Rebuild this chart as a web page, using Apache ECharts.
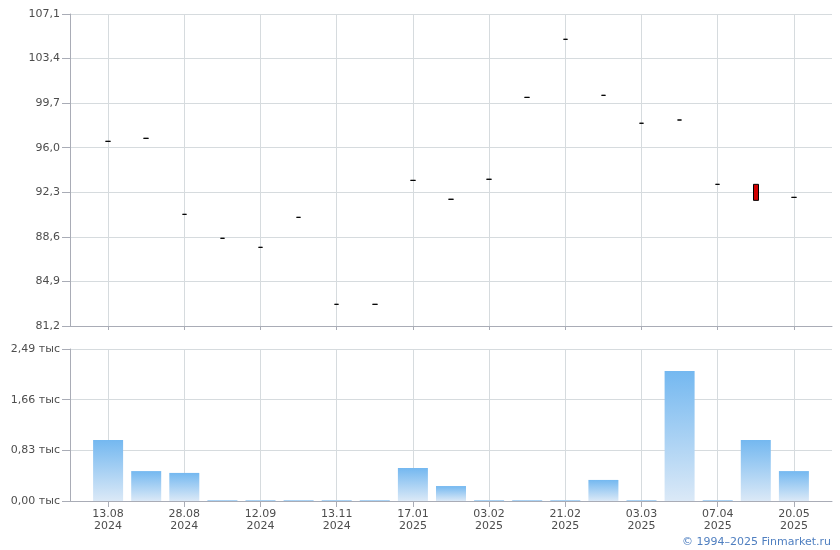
<!DOCTYPE html>
<html>
<head>
<meta charset="utf-8">
<script src="https://cdn.jsdelivr.net/npm/echarts@6/dist/echarts.min.js"></script>
<style>html,body{margin:0;padding:0;background:#fff}#c{width:840px;height:550px}</style>
</head>
<body>
<div id="c"></div>
<script>
// categories (first and last are empty padding slots; unlabeled slots are '')
var categories = ['', '13.08\n2024', '', '28.08\n2024', '', '12.09\n2024', '', '13.11\n2024', '', '17.01\n2025', '', '03.02\n2025', '', '21.02\n2025', '', '03.03\n2025', '', '07.04\n2025', '', '20.05\n2025', ''];
// price: open, close, low, high
var priceOpen  = [null, 96.53, 96.78, 90.47, 88.48, 87.73, 90.22, 83.00, 83.00, 93.29, 91.72, 93.38, 100.18, 105.00, 100.35, 98.03, 98.30, 92.96, 92.96, 91.88, null];
var priceClose = [null, 96.53, 96.78, 90.47, 88.48, 87.73, 90.22, 83.00, 83.00, 93.29, 91.72, 93.38, 100.18, 105.00, 100.35, 98.03, 98.30, 92.96, 91.63, 91.88, null];
var priceLow   = [null, 96.53, 96.78, 90.47, 88.48, 87.73, 90.22, 83.00, 83.00, 93.29, 91.72, 93.38, 100.18, 105.00, 100.35, 98.03, 98.30, 92.96, 91.63, 91.88, null];
var priceHigh  = [null, 96.53, 96.78, 90.47, 88.48, 87.73, 90.22, 83.00, 83.00, 93.29, 91.72, 93.38, 100.18, 105.00, 100.35, 98.03, 98.30, 92.96, 92.96, 91.88, null];
// volume
var volume = [null, 1000, 490, 460, 15, 15, 15, 15, 15, 540, 245, 15, 15, 15, 345, 15, 2130, 15, 1000, 490, null];
// axis settings
var priceMin = 81.2, priceMax = 107.1, priceStep = 3.7;
var volMin = 0, volMax = 2490, volStep = 830;

var candleData = priceOpen.map(function (o, i) {
  return o == null ? '-' : [o, priceClose[i], priceLow[i], priceHigh[i]];
});
var volData = volume.map(function (v) { return v == null ? '-' : v; });

var odd = function (i) { return i % 2 === 1; };
var axisLineColor = '#a9acb6';
var gridColor = '#d6dbde';
var textColor = '#4d4d4d';
var font = 'DejaVu Sans, Verdana, sans-serif';

var chart = echarts.init(document.getElementById('c'));
chart.setOption({
  animation: false,
  backgroundColor: '#fff',
  grid: [
    { left: 70, right: 8, top: 14, height: 312 },
    { left: 70, right: 8, top: 349, height: 152 }
  ],
  xAxis: [
    {
      type: 'category', gridIndex: 0, data: categories, boundaryGap: false,
      axisLine: { lineStyle: { color: axisLineColor } },
      axisTick: { show: true, interval: odd, length: 4, lineStyle: { color: axisLineColor } },
      axisLabel: { show: false },
      splitLine: { show: true, interval: odd, lineStyle: { color: gridColor } }
    },
    {
      type: 'category', gridIndex: 1, data: categories, boundaryGap: false,
      axisLine: { lineStyle: { color: axisLineColor } },
      axisTick: { show: true, interval: odd, length: 6, lineStyle: { color: axisLineColor } },
      axisLabel: { show: true, interval: odd, color: textColor, fontFamily: font, fontSize: 11, lineHeight: 12, margin: 7 },
      splitLine: { show: true, interval: odd, lineStyle: { color: gridColor } }
    }
  ],
  yAxis: [
    {
      type: 'value', gridIndex: 0, min: priceMin, max: priceMax, interval: priceStep,
      axisLine: { show: true, lineStyle: { color: axisLineColor } },
      axisTick: { show: true, length: 8, lineStyle: { color: axisLineColor } },
      axisLabel: { color: textColor, fontFamily: font, fontSize: 11, margin: 10,
        formatter: function (v) { return v.toFixed(1).replace('.', ','); } },
      splitLine: { show: true, lineStyle: { color: gridColor } }
    },
    {
      type: 'value', gridIndex: 1, min: volMin, max: volMax, interval: volStep,
      axisLine: { show: true, lineStyle: { color: axisLineColor } },
      axisTick: { show: true, length: 8, lineStyle: { color: axisLineColor } },
      axisLabel: { color: textColor, fontFamily: font, fontSize: 11, margin: 10,
        formatter: function (v) { return (v / 1000).toFixed(2).replace('.', ',') + ' тыс'; } },
      splitLine: { show: true, lineStyle: { color: gridColor } }
    }
  ],
  series: [
    {
      type: 'candlestick', xAxisIndex: 0, yAxisIndex: 0, data: candleData,
      barWidth: 5,
      itemStyle: { color: '#ffffff', color0: '#d00000', borderColor: '#000', borderColor0: '#000', borderColorDoji: '#000', borderWidth: 1 }
    },
    {
      type: 'bar', xAxisIndex: 1, yAxisIndex: 1, data: volData, barWidth: 30,
      itemStyle: {
        color: new echarts.graphic.LinearGradient(0, 0, 0, 1, [
          { offset: 0, color: '#74b8f0' },
          { offset: 1, color: '#dbe9f7' }
        ])
      }
    }
  ],
  graphic: [
    { type: 'text', right: 9, top: 537,
      style: { text: '© 1994–2025 Finmarket.ru', fill: '#4f7fc0', font: '11px DejaVu Sans, Verdana, sans-serif' } }
  ]
});
</script>
</body>
</html>
